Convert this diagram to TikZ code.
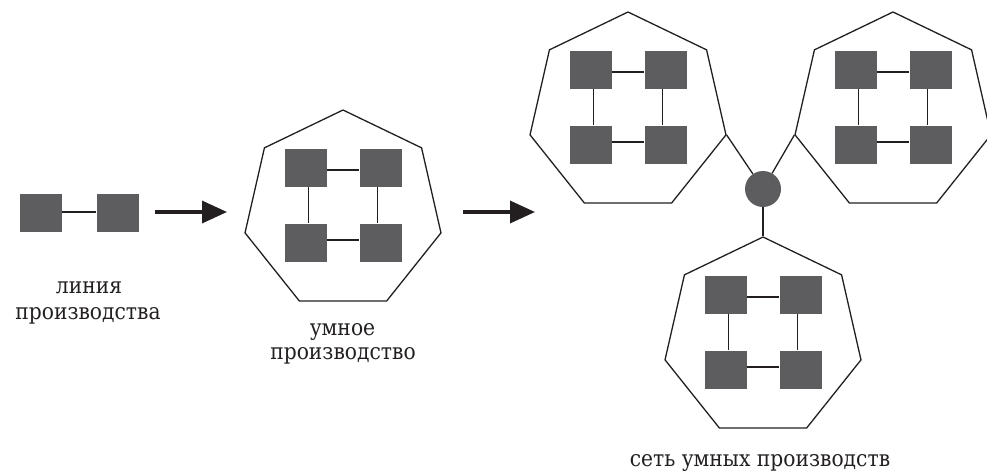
\documentclass[tikz,border=0pt]{standalone}
\usepackage{fontspec}
\setmainfont{DejaVu Serif}[FakeStretch=0.9]
\usetikzlibrary{shapes.geometric,arrows.meta}
\definecolor{boxgray}{RGB}{93,93,95}
\definecolor{inkline}{RGB}{35,31,32}
\tikzset{
  unitbox/.style={rectangle,fill=boxgray,inner sep=0pt,minimum width=42pt,minimum height=38pt},
  heptagon/.style={regular polygon,regular polygon sides=7,draw=inkline,line width=1.3pt,inner sep=0pt,minimum size=201pt},
  link/.style={draw=inkline,line width=1.1pt},
  hublink/.style={draw=inkline,line width=1.3pt},
  bigarrow/.style={draw=inkline,line width=3.5pt,-{Triangle[length=25pt,width=22pt]}},
  caption/.style={font=\fontsize{22.5}{26}\selectfont,text=inkline,anchor=base,inner sep=0pt}
}
\newcommand{\drawfactory}[3]{%
  \node[heptagon] (#1) at (#2,#3) {};
  \node[unitbox] (#1a) at (#2-37.5,#3-43) {};
  \node[unitbox] (#1b) at (#2+37.5,#3-43) {};
  \node[unitbox] (#1c) at (#2-37.5,#3+32) {};
  \node[unitbox] (#1d) at (#2+37.5,#3+32) {};
  \draw[link] ([yshift=-2.5pt]#1a.east) -- ([yshift=-2.5pt]#1b.west);
  \draw[link] ([yshift=2.5pt]#1c.east) -- ([yshift=2.5pt]#1d.west);
  \draw[link] ([xshift=3pt]#1a.south) -- ([xshift=3pt]#1c.north);
  \draw[link] ([xshift=-3pt]#1b.south) -- ([xshift=-3pt]#1d.north);
}
\begin{document}
\begin{tikzpicture}[x=1pt,y=-1pt]
\useasboundingbox (0,0) rectangle (987,471);
% production line
\node[unitbox] (la) at (41,213) {};
\node[unitbox] (lb) at (117.5,213) {};
\draw[link] ([yshift=1pt]la.east) -- ([yshift=1pt]lb.west);
% arrows
\coordinate (a1s) at (155,212);
\coordinate (a1e) at (227,212);
\coordinate (a2s) at (463,212);
\coordinate (a2e) at (535,212);
\draw[bigarrow] (a1s) -- (a1e);
\draw[bigarrow] (a2s) -- (a2e);
% smart factory
\drawfactory{fm}{343}{210.5}
% network
\drawfactory{fl}{628}{112.5}
\drawfactory{fr}{893}{112.5}
\drawfactory{fb}{763}{337.5}
\node[circle,fill=boxgray,inner sep=0pt,minimum size=36pt] (hub) at (763,189) {};
\draw[hublink] (fl.corner 6) -- (hub);
\draw[hublink] (fr.corner 3) -- (hub);
\draw[hublink] (hub) -- (fb.corner 1);
% captions
\node[caption] (t1a) at (89,293) {линия};
\node[caption] (t1b) at (88,319) {производства};
\node[caption] (t2a) at (342.5,335) {умное};
\node[caption] (t2b) at (343,359) {производство};
\node[caption] (t3) at (760,466) {сеть умных производств};
\end{tikzpicture}
\end{document}
